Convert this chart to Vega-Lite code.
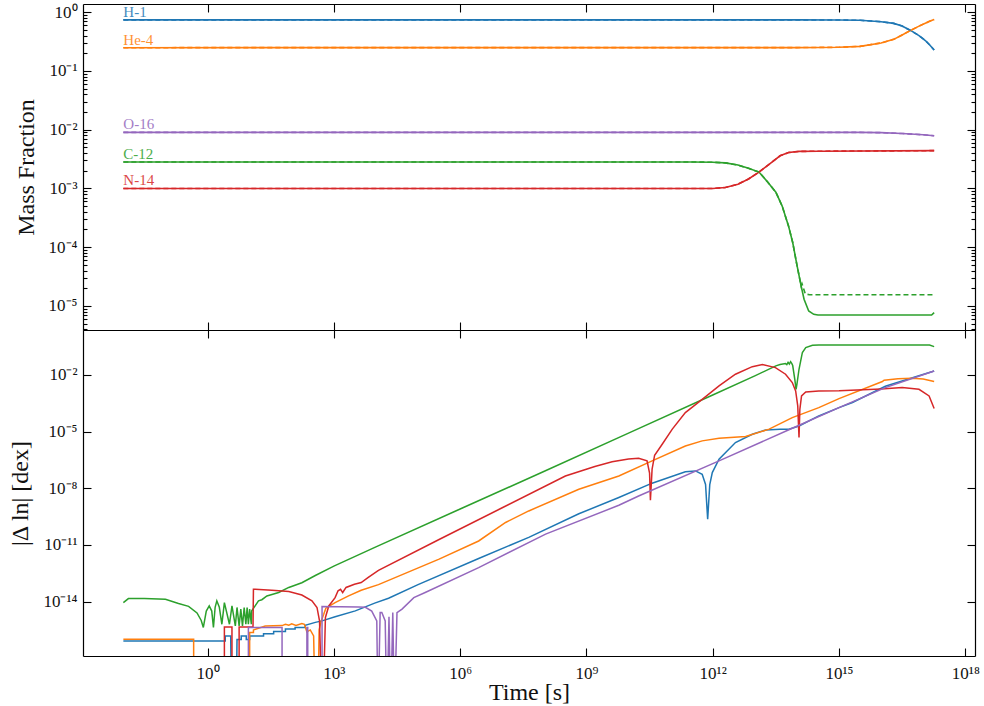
{
  "$schema": "https://vega.github.io/schema/vega-lite/v6.json",
  "background": "white",
  "padding": {"left": 8, "top": 3, "right": 0, "bottom": 0},
  "spacing": 0,
  "bounds": "flush",
  "config": {
    "view": {"stroke": null},
    "font": "Liberation Serif",
    "axis": {
      "grid": false,
      "domainColor": "black",
      "domainWidth": 1.2,
      "tickColor": "black",
      "tickWidth": 1.1,
      "labelColor": "#111111",
      "titleColor": "#111111",
      "labelFont": "Liberation Serif",
      "titleFont": "Liberation Serif",
      "labelFontSize": 17,
      "titleFontSize": 24,
      "titleFontWeight": "normal",
      "labelOverlap": false,
      "labelFlush": false,
      "labelBound": false
    }
  },
  "datasets": {
    "fracSolid": [
      {"species": "H-1", "t": 0.01, "X": 0.74}, {"species": "H-1", "t": 1e14, "X": 0.74}, {"species": "H-1", "t": 1e15, "X": 0.737}, {"species": "H-1", "t": 3.162e15, "X": 0.728}, {"species": "H-1", "t": 1e16, "X": 0.69}, {"species": "H-1", "t": 1.995e16, "X": 0.645}, {"species": "H-1", "t": 3.162e16, "X": 0.58}, {"species": "H-1", "t": 5.012e16, "X": 0.49}, {"species": "H-1", "t": 7.943e16, "X": 0.40}, {"species": "H-1", "t": 1.122e17, "X": 0.33}, {"species": "H-1", "t": 1.413e17, "X": 0.28}, {"species": "H-1", "t": 1.82e17, "X": 0.228},
      {"species": "He-4", "t": 0.01, "X": 0.249}, {"species": "He-4", "t": 1e14, "X": 0.25}, {"species": "He-4", "t": 1e15, "X": 0.253}, {"species": "He-4", "t": 3.162e15, "X": 0.262}, {"species": "He-4", "t": 1e16, "X": 0.30}, {"species": "He-4", "t": 1.995e16, "X": 0.345}, {"species": "He-4", "t": 3.162e16, "X": 0.41}, {"species": "He-4", "t": 5.012e16, "X": 0.49}, {"species": "He-4", "t": 7.943e16, "X": 0.58}, {"species": "He-4", "t": 1.122e17, "X": 0.65}, {"species": "He-4", "t": 1.413e17, "X": 0.70}, {"species": "He-4", "t": 1.82e17, "X": 0.75},
      {"species": "C-12", "t": 0.01, "X": 0.00282}, {"species": "C-12", "t": 3.162e11, "X": 0.00282}, {"species": "C-12", "t": 1e12, "X": 0.00279}, {"species": "C-12", "t": 1.995e12, "X": 0.00272}, {"species": "C-12", "t": 3.981e12, "X": 0.0025}, {"species": "C-12", "t": 7.079e12, "X": 0.0022}, {"species": "C-12", "t": 1.259e13, "X": 0.0019}, {"species": "C-12", "t": 1.995e13, "X": 0.0013}, {"species": "C-12", "t": 3.162e13, "X": 0.00086}, {"species": "C-12", "t": 4.467e13, "X": 0.0005}, {"species": "C-12", "t": 6.31e13, "X": 0.00023}, {"species": "C-12", "t": 7.943e13, "X": 0.00012}, {"species": "C-12", "t": 1e14, "X": 5.0e-5}, {"species": "C-12", "t": 1.259e14, "X": 2.2e-5}, {"species": "C-12", "t": 1.479e14, "X": 1.3e-5}, {"species": "C-12", "t": 1.905e14, "X": 8.2e-6}, {"species": "C-12", "t": 2.512e14, "X": 7.2e-6}, {"species": "C-12", "t": 3.162e14, "X": 7.0e-6}, {"species": "C-12", "t": 1.585e17, "X": 7.0e-6}, {"species": "C-12", "t": 1.82e17, "X": 7.7e-6},
      {"species": "N-14", "t": 0.01, "X": 0.001}, {"species": "N-14", "t": 1e12, "X": 0.001}, {"species": "N-14", "t": 1.995e12, "X": 0.00104}, {"species": "N-14", "t": 3.981e12, "X": 0.00118}, {"species": "N-14", "t": 7.079e12, "X": 0.00145}, {"species": "N-14", "t": 1.259e13, "X": 0.0019}, {"species": "N-14", "t": 2.512e13, "X": 0.00278}, {"species": "N-14", "t": 3.981e13, "X": 0.0036}, {"species": "N-14", "t": 6.31e13, "X": 0.00408}, {"species": "N-14", "t": 1.122e14, "X": 0.00427}, {"species": "N-14", "t": 3.162e14, "X": 0.0043}, {"species": "N-14", "t": 1.82e17, "X": 0.0044},
      {"species": "O-16", "t": 0.01, "X": 0.009}, {"species": "O-16", "t": 3.162e15, "X": 0.009}, {"species": "O-16", "t": 1e16, "X": 0.0089}, {"species": "O-16", "t": 3.162e16, "X": 0.0086}, {"species": "O-16", "t": 1e17, "X": 0.0082}, {"species": "O-16", "t": 1.82e17, "X": 0.0079}
    ],
    "fracDashed": [
      {"species": "H-1", "t": 0.01, "X": 0.74}, {"species": "H-1", "t": 1e14, "X": 0.74}, {"species": "H-1", "t": 1e15, "X": 0.737}, {"species": "H-1", "t": 3.162e15, "X": 0.728}, {"species": "H-1", "t": 1e16, "X": 0.69}, {"species": "H-1", "t": 1.995e16, "X": 0.645}, {"species": "H-1", "t": 3.162e16, "X": 0.58}, {"species": "H-1", "t": 5.012e16, "X": 0.49}, {"species": "H-1", "t": 7.943e16, "X": 0.40}, {"species": "H-1", "t": 1.122e17, "X": 0.33}, {"species": "H-1", "t": 1.413e17, "X": 0.28}, {"species": "H-1", "t": 1.82e17, "X": 0.228},
      {"species": "He-4", "t": 0.01, "X": 0.249}, {"species": "He-4", "t": 1e14, "X": 0.25}, {"species": "He-4", "t": 1e15, "X": 0.253}, {"species": "He-4", "t": 3.162e15, "X": 0.262}, {"species": "He-4", "t": 1e16, "X": 0.30}, {"species": "He-4", "t": 1.995e16, "X": 0.345}, {"species": "He-4", "t": 3.162e16, "X": 0.41}, {"species": "He-4", "t": 5.012e16, "X": 0.49}, {"species": "He-4", "t": 7.943e16, "X": 0.58}, {"species": "He-4", "t": 1.122e17, "X": 0.65}, {"species": "He-4", "t": 1.413e17, "X": 0.70}, {"species": "He-4", "t": 1.82e17, "X": 0.75},
      {"species": "C-12", "t": 0.01, "X": 0.00282}, {"species": "C-12", "t": 3.162e11, "X": 0.00282}, {"species": "C-12", "t": 1e12, "X": 0.00279}, {"species": "C-12", "t": 1.995e12, "X": 0.00272}, {"species": "C-12", "t": 3.981e12, "X": 0.0025}, {"species": "C-12", "t": 7.079e12, "X": 0.0022}, {"species": "C-12", "t": 1.259e13, "X": 0.0019}, {"species": "C-12", "t": 1.995e13, "X": 0.0013}, {"species": "C-12", "t": 3.162e13, "X": 0.00086}, {"species": "C-12", "t": 4.467e13, "X": 0.0005}, {"species": "C-12", "t": 6.31e13, "X": 0.00023}, {"species": "C-12", "t": 7.943e13, "X": 0.00012}, {"species": "C-12", "t": 1e14, "X": 5.0e-5}, {"species": "C-12", "t": 1.259e14, "X": 2.2e-5}, {"species": "C-12", "t": 1.318e14, "X": 2.4e-5}, {"species": "C-12", "t": 1.585e14, "X": 1.6e-5}, {"species": "C-12", "t": 1.995e14, "X": 1.55e-5}, {"species": "C-12", "t": 1.82e17, "X": 1.55e-5},
      {"species": "N-14", "t": 0.01, "X": 0.001}, {"species": "N-14", "t": 1e12, "X": 0.001}, {"species": "N-14", "t": 1.995e12, "X": 0.00104}, {"species": "N-14", "t": 3.981e12, "X": 0.00118}, {"species": "N-14", "t": 7.079e12, "X": 0.00145}, {"species": "N-14", "t": 1.259e13, "X": 0.0019}, {"species": "N-14", "t": 2.512e13, "X": 0.00278}, {"species": "N-14", "t": 3.981e13, "X": 0.0036}, {"species": "N-14", "t": 6.31e13, "X": 0.00408}, {"species": "N-14", "t": 1.122e14, "X": 0.00427}, {"species": "N-14", "t": 3.162e14, "X": 0.0043}, {"species": "N-14", "t": 1.82e17, "X": 0.0044},
      {"species": "O-16", "t": 0.01, "X": 0.009}, {"species": "O-16", "t": 3.162e15, "X": 0.009}, {"species": "O-16", "t": 1e16, "X": 0.0089}, {"species": "O-16", "t": 3.162e16, "X": 0.0086}, {"species": "O-16", "t": 1e17, "X": 0.0082}, {"species": "O-16", "t": 1.82e17, "X": 0.0079}
    ],
    "dex": [
      {"species": "H-1", "t": 0.01, "d": 8.32e-17}, {"species": "H-1", "t": 2.63, "d": 8.32e-17}, {"species": "H-1", "t": 2.63, "d": 1.51e-16}, {"species": "H-1", "t": 3.548, "d": 1.51e-16}, {"species": "H-1", "t": 3.715, "d": 1e-20}, {"species": "H-1", "t": 4.786, "d": 1e-20}, {"species": "H-1", "t": 5.012, "d": 1e-16}, {"species": "H-1", "t": 6.31, "d": 1e-16}, {"species": "H-1", "t": 6.31, "d": 1.51e-16}, {"species": "H-1", "t": 8.318, "d": 1.51e-16}, {"species": "H-1", "t": 8.318, "d": 1e-16}, {"species": "H-1", "t": 10, "d": 1e-16}, {"species": "H-1", "t": 10, "d": 1.51e-16}, {"species": "H-1", "t": 21.38, "d": 1.51e-16}, {"species": "H-1", "t": 21.38, "d": 2.0e-16}, {"species": "H-1", "t": 37.15, "d": 2.0e-16}, {"species": "H-1", "t": 37.15, "d": 2.63e-16}, {"species": "H-1", "t": 70.79, "d": 2.63e-16}, {"species": "H-1", "t": 70.79, "d": 3.55e-16}, {"species": "H-1", "t": 120.2, "d": 3.55e-16}, {"species": "H-1", "t": 120.2, "d": 4.27e-16}, {"species": "H-1", "t": 208.9, "d": 4.27e-16}, {"species": "H-1", "t": 208.9, "d": 5.62e-16}, {"species": "H-1", "t": 363.1, "d": 7.94e-16}, {"species": "H-1", "t": 524.8, "d": 9.55e-16}, {"species": "H-1", "t": 1072, "d": 1.585e-15}, {"species": "H-1", "t": 3236, "d": 3.24e-15}, {"species": "H-1", "t": 9333, "d": 8.32e-15}, {"species": "H-1", "t": 1.995e4, "d": 1.51e-14}, {"species": "H-1", "t": 1e5, "d": 7.94e-14}, {"species": "H-1", "t": 2.754e6, "d": 1.905e-12}, {"species": "H-1", "t": 4.266e7, "d": 2.51e-11}, {"species": "H-1", "t": 6.607e8, "d": 4.47e-10}, {"species": "H-1", "t": 5.888e9, "d": 3.24e-9}, {"species": "H-1", "t": 3.631e10, "d": 1.862e-8}, {"species": "H-1", "t": 2.239e11, "d": 7.41e-8}, {"species": "H-1", "t": 3.89e11, "d": 8.32e-8}, {"species": "H-1", "t": 5.623e11, "d": 5.5e-8}, {"species": "H-1", "t": 6.761e11, "d": 1.585e-8}, {"species": "H-1", "t": 7.586e11, "d": 2.29e-10}, {"species": "H-1", "t": 8.511e11, "d": 1.585e-8}, {"species": "H-1", "t": 9.772e11, "d": 6.76e-8}, {"species": "H-1", "t": 1.413e12, "d": 3.47e-7}, {"species": "H-1", "t": 3.467e12, "d": 2.63e-6}, {"species": "H-1", "t": 8.71e12, "d": 7.24e-6}, {"species": "H-1", "t": 1.82e13, "d": 1.23e-5}, {"species": "H-1", "t": 3.981e13, "d": 1.35e-5}, {"species": "H-1", "t": 6.457e13, "d": 1.35e-5}, {"species": "H-1", "t": 1.122e14, "d": 2.0e-5}, {"species": "H-1", "t": 3.311e14, "d": 6.76e-5}, {"species": "H-1", "t": 1e15, "d": 1.86e-4}, {"species": "H-1", "t": 2.089e15, "d": 3.47e-4}, {"species": "H-1", "t": 1.259e16, "d": 2.51e-3}, {"species": "H-1", "t": 1.82e17, "d": 1.62e-2},
      {"species": "He-4", "t": 0.01, "d": 1.023e-16}, {"species": "He-4", "t": 0.4677, "d": 1.023e-16}, {"species": "He-4", "t": 0.4677, "d": 1e-20}, {"species": "He-4", "t": 10, "d": 1e-20}, {"species": "He-4", "t": 10, "d": 2.29e-16}, {"species": "He-4", "t": 12.3, "d": 2.29e-16}, {"species": "He-4", "t": 12.3, "d": 3.16e-16}, {"species": "He-4", "t": 16.22, "d": 3.89e-16}, {"species": "He-4", "t": 23.44, "d": 5.13e-16}, {"species": "He-4", "t": 58.88, "d": 5.37e-16}, {"species": "He-4", "t": 70.79, "d": 6.31e-16}, {"species": "He-4", "t": 85.11, "d": 5.62e-16}, {"species": "He-4", "t": 100, "d": 6.61e-16}, {"species": "He-4", "t": 125.9, "d": 5.5e-16}, {"species": "He-4", "t": 173.8, "d": 6.92e-16}, {"species": "He-4", "t": 199.5, "d": 6.31e-16}, {"species": "He-4", "t": 229.1, "d": 2.51e-16}, {"species": "He-4", "t": 275.4, "d": 3.16e-16}, {"species": "He-4", "t": 331.1, "d": 1.51e-16}, {"species": "He-4", "t": 363.1, "d": 1e-20}, {"species": "He-4", "t": 416.9, "d": 1e-20}, {"species": "He-4", "t": 446.7, "d": 3.16e-16}, {"species": "He-4", "t": 501.2, "d": 9.55e-16}, {"species": "He-4", "t": 575.4, "d": 2.14e-15}, {"species": "He-4", "t": 645.7, "d": 4.47e-15}, {"species": "He-4", "t": 1072, "d": 8.91e-15}, {"species": "He-4", "t": 2239, "d": 2.0e-14}, {"species": "He-4", "t": 4467, "d": 3.98e-14}, {"species": "He-4", "t": 1.148e4, "d": 7.94e-14}, {"species": "He-4", "t": 3.162e5, "d": 1.778e-12}, {"species": "He-4", "t": 2.754e6, "d": 1.622e-11}, {"species": "He-4", "t": 1.202e7, "d": 1.549e-10}, {"species": "He-4", "t": 4.266e7, "d": 6.31e-10}, {"species": "He-4", "t": 6.607e8, "d": 8.91e-9}, {"species": "He-4", "t": 5.888e9, "d": 4.47e-8}, {"species": "He-4", "t": 3.631e10, "d": 2.82e-7}, {"species": "He-4", "t": 2.239e11, "d": 1.738e-6}, {"species": "He-4", "t": 5.623e11, "d": 3.24e-6}, {"species": "He-4", "t": 1.413e12, "d": 4.47e-6}, {"species": "He-4", "t": 6.026e12, "d": 5.5e-6}, {"species": "He-4", "t": 2.188e13, "d": 1.35e-5}, {"species": "He-4", "t": 7.762e13, "d": 5.5e-5}, {"species": "He-4", "t": 3.311e14, "d": 1.86e-4}, {"species": "He-4", "t": 1e15, "d": 5.62e-4}, {"species": "He-4", "t": 1.072e16, "d": 4.47e-3}, {"species": "He-4", "t": 1.175e16, "d": 5.25e-3}, {"species": "He-4", "t": 2.512e16, "d": 6.31e-3}, {"species": "He-4", "t": 5.495e16, "d": 6.76e-3}, {"species": "He-4", "t": 1e17, "d": 6.03e-3}, {"species": "He-4", "t": 1.82e17, "d": 4.47e-3},
      {"species": "C-12", "t": 0.01, "d": 8.91e-15}, {"species": "C-12", "t": 0.01318, "d": 1.445e-14}, {"species": "C-12", "t": 0.03162, "d": 1.479e-14}, {"species": "C-12", "t": 0.1, "d": 1.318e-14}, {"species": "C-12", "t": 0.2042, "d": 7.94e-15}, {"species": "C-12", "t": 0.3548, "d": 5.62e-15}, {"species": "C-12", "t": 0.5623, "d": 2.51e-15}, {"species": "C-12", "t": 0.7079, "d": 1.0e-15}, {"species": "C-12", "t": 0.7943, "d": 4.27e-16}, {"species": "C-12", "t": 0.9333, "d": 3.16e-15}, {"species": "C-12", "t": 1.096, "d": 5.89e-15}, {"species": "C-12", "t": 1.259, "d": 3.16e-15}, {"species": "C-12", "t": 1.38, "d": 4.27e-16}, {"species": "C-12", "t": 1.514, "d": 5.01e-15}, {"species": "C-12", "t": 1.66, "d": 1.096e-14}, {"species": "C-12", "t": 1.905, "d": 5.01e-15}, {"species": "C-12", "t": 2.188, "d": 6.31e-16}, {"species": "C-12", "t": 2.512, "d": 8.91e-15}, {"species": "C-12", "t": 3.311, "d": 6.31e-16}, {"species": "C-12", "t": 3.802, "d": 5.89e-15}, {"species": "C-12", "t": 4.571, "d": 5.13e-16}, {"species": "C-12", "t": 5.012, "d": 4.9e-15}, {"species": "C-12", "t": 5.623, "d": 5.13e-16}, {"species": "C-12", "t": 6.166, "d": 3.98e-15}, {"species": "C-12", "t": 6.761, "d": 5.13e-16}, {"species": "C-12", "t": 7.413, "d": 4.9e-15}, {"species": "C-12", "t": 8.128, "d": 6.31e-16}, {"species": "C-12", "t": 8.71, "d": 4.9e-15}, {"species": "C-12", "t": 9.333, "d": 6.31e-16}, {"species": "C-12", "t": 10, "d": 3.98e-15}, {"species": "C-12", "t": 10.96, "d": 6.31e-16}, {"species": "C-12", "t": 11.22, "d": 3.24e-15}, {"species": "C-12", "t": 13.49, "d": 5.89e-15}, {"species": "C-12", "t": 16.22, "d": 1.096e-14}, {"species": "C-12", "t": 19.5, "d": 1.259e-14}, {"species": "C-12", "t": 25.7, "d": 2.0e-14}, {"species": "C-12", "t": 33.88, "d": 2.4e-14}, {"species": "C-12", "t": 48.98, "d": 3.02e-14}, {"species": "C-12", "t": 85.11, "d": 5.62e-14}, {"species": "C-12", "t": 173.8, "d": 1.0e-13}, {"species": "C-12", "t": 363.1, "d": 2.4e-13}, {"species": "C-12", "t": 1000, "d": 7.59e-13}, {"species": "C-12", "t": 1e4, "d": 7.94e-12}, {"species": "C-12", "t": 1e6, "d": 7.94e-10}, {"species": "C-12", "t": 1e8, "d": 7.94e-8}, {"species": "C-12", "t": 1e10, "d": 8.32e-6}, {"species": "C-12", "t": 1e12, "d": 8.71e-4}, {"species": "C-12", "t": 1e13, "d": 8.91e-3}, {"species": "C-12", "t": 3.162e13, "d": 3.02e-2}, {"species": "C-12", "t": 3.981e13, "d": 3.55e-2}, {"species": "C-12", "t": 5.37e13, "d": 3.98e-2}, {"species": "C-12", "t": 5.754e13, "d": 3.55e-2}, {"species": "C-12", "t": 6.166e13, "d": 4.68e-2}, {"species": "C-12", "t": 6.607e13, "d": 3.8e-2}, {"species": "C-12", "t": 7.079e13, "d": 5.01e-2}, {"species": "C-12", "t": 7.586e13, "d": 3.98e-2}, {"species": "C-12", "t": 7.943e13, "d": 3.16e-2}, {"species": "C-12", "t": 8.913e13, "d": 5.89e-3}, {"species": "C-12", "t": 9.55e13, "d": 1.738e-3}, {"species": "C-12", "t": 1e14, "d": 3.16e-3}, {"species": "C-12", "t": 1.122e14, "d": 2.0e-2}, {"species": "C-12", "t": 1.23e14, "d": 5.5e-2}, {"species": "C-12", "t": 1.349e14, "d": 0.155}, {"species": "C-12", "t": 1.622e14, "d": 0.282}, {"species": "C-12", "t": 2.344e14, "d": 0.372}, {"species": "C-12", "t": 3.311e14, "d": 0.389}, {"species": "C-12", "t": 1.413e17, "d": 0.389}, {"species": "C-12", "t": 1.82e17, "d": 0.316},
      {"species": "N-14", "t": 0.01, "d": 1e-20}, {"species": "N-14", "t": 2.512, "d": 1e-20}, {"species": "N-14", "t": 2.512, "d": 4.57e-16}, {"species": "N-14", "t": 3.802, "d": 4.57e-16}, {"species": "N-14", "t": 3.802, "d": 1e-20}, {"species": "N-14", "t": 5.623, "d": 1e-20}, {"species": "N-14", "t": 5.623, "d": 4.57e-16}, {"species": "N-14", "t": 12.02, "d": 4.57e-16}, {"species": "N-14", "t": 12.3, "d": 4.47e-14}, {"species": "N-14", "t": 13.49, "d": 4.47e-14}, {"species": "N-14", "t": 33.88, "d": 3.98e-14}, {"species": "N-14", "t": 85.11, "d": 3.39e-14}, {"species": "N-14", "t": 173.8, "d": 2.24e-14}, {"species": "N-14", "t": 302.0, "d": 1.096e-14}, {"species": "N-14", "t": 398.1, "d": 4.9e-15}, {"species": "N-14", "t": 457.1, "d": 9.55e-16}, {"species": "N-14", "t": 524.8, "d": 1e-20}, {"species": "N-14", "t": 549.5, "d": 1e-20}, {"species": "N-14", "t": 631.0, "d": 1.445e-15}, {"species": "N-14", "t": 758.6, "d": 5.89e-15}, {"species": "N-14", "t": 1072, "d": 1.622e-14}, {"species": "N-14", "t": 1259, "d": 3.72e-14}, {"species": "N-14", "t": 1445, "d": 4.47e-14}, {"species": "N-14", "t": 1622, "d": 3.02e-14}, {"species": "N-14", "t": 1950, "d": 5.62e-14}, {"species": "N-14", "t": 3090, "d": 8.32e-14}, {"species": "N-14", "t": 4467, "d": 1.023e-13}, {"species": "N-14", "t": 6457, "d": 1.862e-13}, {"species": "N-14", "t": 1.148e4, "d": 4.47e-13}, {"species": "N-14", "t": 3.162e5, "d": 1.95e-11}, {"species": "N-14", "t": 1e7, "d": 9.33e-10}, {"species": "N-14", "t": 3.162e8, "d": 4.47e-8}, {"species": "N-14", "t": 1.585e9, "d": 1.413e-7}, {"species": "N-14", "t": 4.074e9, "d": 2.51e-7}, {"species": "N-14", "t": 1e10, "d": 3.55e-7}, {"species": "N-14", "t": 1.738e10, "d": 3.89e-7}, {"species": "N-14", "t": 2.754e10, "d": 2.82e-7}, {"species": "N-14", "t": 3.162e10, "d": 6.31e-8}, {"species": "N-14", "t": 3.311e10, "d": 2.34e-9}, {"species": "N-14", "t": 3.631e10, "d": 1.023e-7}, {"species": "N-14", "t": 4.169e10, "d": 5.62e-7}, {"species": "N-14", "t": 6.31e10, "d": 2.14e-6}, {"species": "N-14", "t": 1.096e11, "d": 1.35e-5}, {"species": "N-14", "t": 2.239e11, "d": 1.023e-4}, {"species": "N-14", "t": 5.623e11, "d": 5.13e-4}, {"species": "N-14", "t": 1.413e12, "d": 2.63e-3}, {"species": "N-14", "t": 3.467e12, "d": 1.096e-2}, {"species": "N-14", "t": 8.71e12, "d": 2.75e-2}, {"species": "N-14", "t": 1.514e13, "d": 3.55e-2}, {"species": "N-14", "t": 3.09e13, "d": 2.45e-2}, {"species": "N-14", "t": 5.37e13, "d": 1.096e-2}, {"species": "N-14", "t": 7.762e13, "d": 3.98e-3}, {"species": "N-14", "t": 9.333e13, "d": 1.413e-3}, {"species": "N-14", "t": 1.047e14, "d": 2.29e-4}, {"species": "N-14", "t": 1.122e14, "d": 4.9e-6}, {"species": "N-14", "t": 1.175e14, "d": 1.51e-4}, {"species": "N-14", "t": 1.288e14, "d": 7.76e-4}, {"species": "N-14", "t": 1.622e14, "d": 1.259e-3}, {"species": "N-14", "t": 3.311e14, "d": 1.413e-3}, {"species": "N-14", "t": 1e15, "d": 1.445e-3}, {"species": "N-14", "t": 1e16, "d": 1.82e-3}, {"species": "N-14", "t": 3.162e16, "d": 2.14e-3}, {"species": "N-14", "t": 7.943e16, "d": 1.738e-3}, {"species": "N-14", "t": 1.38e17, "d": 7.76e-4}, {"species": "N-14", "t": 1.82e17, "d": 1.66e-4},
      {"species": "O-16", "t": 0.01, "d": 1e-20}, {"species": "O-16", "t": 9.333, "d": 1e-20}, {"species": "O-16", "t": 9.333, "d": 4.27e-16}, {"species": "O-16", "t": 58.88, "d": 4.27e-16}, {"species": "O-16", "t": 58.88, "d": 1e-20}, {"species": "O-16", "t": 229.1, "d": 1e-20}, {"species": "O-16", "t": 229.1, "d": 4.27e-16}, {"species": "O-16", "t": 239.9, "d": 4.27e-16}, {"species": "O-16", "t": 239.9, "d": 1e-20}, {"species": "O-16", "t": 524.8, "d": 1e-20}, {"species": "O-16", "t": 524.8, "d": 5.5e-15}, {"species": "O-16", "t": 3890, "d": 5.25e-15}, {"species": "O-16", "t": 5623, "d": 5.01e-15}, {"species": "O-16", "t": 7943, "d": 3.16e-15}, {"species": "O-16", "t": 1.047e4, "d": 9.55e-16}, {"species": "O-16", "t": 1.122e4, "d": 1e-20}, {"species": "O-16", "t": 1.259e4, "d": 2.63e-15}, {"species": "O-16", "t": 1.38e4, "d": 2.63e-15}, {"species": "O-16", "t": 1.66e4, "d": 9.55e-16}, {"species": "O-16", "t": 1.82e4, "d": 1e-20}, {"species": "O-16", "t": 2.042e4, "d": 1.585e-15}, {"species": "O-16", "t": 2.239e4, "d": 1e-20}, {"species": "O-16", "t": 2.512e4, "d": 2.63e-15}, {"species": "O-16", "t": 2.754e4, "d": 1e-20}, {"species": "O-16", "t": 3.162e4, "d": 2.63e-15}, {"species": "O-16", "t": 4.169e4, "d": 3.98e-15}, {"species": "O-16", "t": 7.943e4, "d": 1.622e-14}, {"species": "O-16", "t": 1.479e5, "d": 3.02e-14}, {"species": "O-16", "t": 2.754e6, "d": 6.31e-13}, {"species": "O-16", "t": 1.072e8, "d": 3.72e-11}, {"species": "O-16", "t": 5.888e9, "d": 1.259e-9}, {"species": "O-16", "t": 1.738e10, "d": 3.89e-9}, {"species": "O-16", "t": 1.413e12, "d": 2.82e-7}, {"species": "O-16", "t": 6.457e13, "d": 1.259e-5}, {"species": "O-16", "t": 1e15, "d": 1.86e-4}, {"species": "O-16", "t": 1.259e16, "d": 2.14e-3}, {"species": "O-16", "t": 1.82e17, "d": 1.62e-2}
    ]
  },
  "vconcat": [
    {
      "width": 892,
      "height": 326,
      "layer": [
        {
          "data": {"name": "fracSolid"},
          "mark": {"type": "line", "strokeWidth": 1.6, "clip": true},
          "encoding": {
            "x": {"field": "t", "type": "quantitative",
              "scale": {"type": "log", "domain": [1.1e-3, 1.7e18], "nice": false},
              "axis": {"orient": "bottom", "values": [1, 1e3, 1e6, 1e9, 1e12, 1e15, 1e18], "labels": false, "tickSize": -8, "title": null}},
            "y": {"field": "X", "type": "quantitative",
              "scale": {"type": "log", "domain": [3.89e-6, 1.38], "nice": false},
              "axis": {
                "orient": "left",
                "title": "Mass Fraction",
                "titlePadding": 10,
                "values": [4e-6, 5e-6, 6e-6, 7e-6, 8e-6, 9e-6, 1e-5, 2e-5, 3e-5, 4e-5, 5e-5, 6e-5, 7e-5, 8e-5, 9e-5, 1e-4, 2e-4, 3e-4, 4e-4, 5e-4, 6e-4, 7e-4, 8e-4, 9e-4, 1e-3, 2e-3, 3e-3, 4e-3, 5e-3, 6e-3, 7e-3, 8e-3, 9e-3, 1e-2, 2e-2, 3e-2, 4e-2, 5e-2, 6e-2, 7e-2, 8e-2, 9e-2, 0.1, 0.2, 0.3, 0.4, 0.5, 0.6, 0.7, 0.8, 0.9, 1],
                "tickSize": {"condition": {"test": "abs(log(datum.value)/LN10 - round(log(datum.value)/LN10)) < 0.001", "value": -8}, "value": -4},
                "labelPadding": 14,
                "labelExpr": "abs(log(datum.value)/LN10 - round(log(datum.value)/LN10)) < 0.001 ? ('10' + (datum.value < 0.5 ? '⁻' : '') + substring('⁰¹²³⁴⁵⁶⁷⁸⁹', abs(round(log(datum.value)/LN10)) % 10, abs(round(log(datum.value)/LN10)) % 10 + 1)) : ''"
              }},
            "color": {"field": "species", "type": "nominal",
              "scale": {"domain": ["H-1", "He-4", "C-12", "N-14", "O-16"], "range": ["#1f77b4", "#ff7f0e", "#2ca02c", "#d62728", "#9467bd"]},
              "legend": null}
          }
        },
        {
          "data": {"name": "fracDashed"},
          "mark": {"type": "line", "strokeWidth": 1.6, "strokeDash": [5, 3], "clip": true},
          "encoding": {
            "x": {"field": "t", "type": "quantitative",
              "scale": {"type": "log", "domain": [1.1e-3, 1.7e18], "nice": false},
              "axis": {"orient": "top", "values": [1, 1e3, 1e6, 1e9, 1e12, 1e15, 1e18], "labels": false, "tickSize": -8, "title": null}},
            "y": {"field": "X", "type": "quantitative",
              "scale": {"type": "log", "domain": [3.89e-6, 1.38], "nice": false},
              "axis": {
                "orient": "right",
                "title": null,
                "labels": false,
                "values": [4e-6, 5e-6, 6e-6, 7e-6, 8e-6, 9e-6, 1e-5, 2e-5, 3e-5, 4e-5, 5e-5, 6e-5, 7e-5, 8e-5, 9e-5, 1e-4, 2e-4, 3e-4, 4e-4, 5e-4, 6e-4, 7e-4, 8e-4, 9e-4, 1e-3, 2e-3, 3e-3, 4e-3, 5e-3, 6e-3, 7e-3, 8e-3, 9e-3, 1e-2, 2e-2, 3e-2, 4e-2, 5e-2, 6e-2, 7e-2, 8e-2, 9e-2, 0.1, 0.2, 0.3, 0.4, 0.5, 0.6, 0.7, 0.8, 0.9, 1],
                "tickSize": {"condition": {"test": "abs(log(datum.value)/LN10 - round(log(datum.value)/LN10)) < 0.001", "value": -8}, "value": -4}
              }},
            "color": {"field": "species", "type": "nominal", "legend": null}
          }
        },
        {
          "data": {"name": "fracSolid"},
          "transform": [{"filter": "datum.t == 0.01"}],
          "mark": {"type": "text", "align": "left", "baseline": "alphabetic", "dy": -3, "fontSize": 15, "font": "Liberation Serif", "opacity": 0.85},
          "encoding": {
            "x": {"field": "t", "type": "quantitative", "axis": null},
            "y": {"field": "X", "type": "quantitative", "axis": null},
            "text": {"field": "species"},
            "color": {"field": "species", "type": "nominal", "legend": null}
          }
        }
      ],
      "resolve": {"axis": {"x": "independent", "y": "independent"}}
    },
    {
      "width": 892,
      "height": 326,
      "layer": [
        {
          "data": {"name": "dex"},
          "transform": [{"filter": "datum.species == 'H-1' || datum.species == 'He-4' || datum.species == 'C-12'"}],
          "mark": {"type": "line", "strokeWidth": 1.5, "clip": true},
          "encoding": {
            "x": {"field": "t", "type": "quantitative", "sort": null,
              "scale": {"type": "log", "domain": [1.1e-3, 1.7e18], "nice": false},
              "axis": {
                "orient": "bottom",
                "title": "Time [s]",
                "titlePadding": -1,
                "values": [1, 1e3, 1e6, 1e9, 1e12, 1e15, 1e18],
                "tickSize": -8,
                "labelPadding": 17,
                "labelExpr": "'10' + (datum.value < 0.5 ? '⁻' : '') + (abs(round(log(datum.value)/LN10)) >= 10 ? substring('⁰¹²³⁴⁵⁶⁷⁸⁹', floor(abs(round(log(datum.value)/LN10))/10), floor(abs(round(log(datum.value)/LN10))/10) + 1) : '') + substring('⁰¹²³⁴⁵⁶⁷⁸⁹', abs(round(log(datum.value)/LN10)) % 10, abs(round(log(datum.value)/LN10)) % 10 + 1)"
              }},
            "y": {"field": "d", "type": "quantitative",
              "scale": {"type": "log", "domain": [1.318e-17, 2.4], "nice": false},
              "axis": {
                "orient": "left",
                "title": "|Δ ln| [dex]",
                "titlePadding": 10,
                "values": [1e-14, 1e-11, 1e-8, 1e-5, 1e-2],
                "tickSize": -8,
                "labelPadding": 14,
                "labelExpr": "'10' + (datum.value < 0.5 ? '⁻' : '') + (abs(round(log(datum.value)/LN10)) >= 10 ? substring('⁰¹²³⁴⁵⁶⁷⁸⁹', floor(abs(round(log(datum.value)/LN10))/10), floor(abs(round(log(datum.value)/LN10))/10) + 1) : '') + substring('⁰¹²³⁴⁵⁶⁷⁸⁹', abs(round(log(datum.value)/LN10)) % 10, abs(round(log(datum.value)/LN10)) % 10 + 1)"
              }},
            "color": {"field": "species", "type": "nominal",
              "scale": {"domain": ["H-1", "He-4", "C-12", "N-14", "O-16"], "range": ["#1f77b4", "#ff7f0e", "#2ca02c", "#d62728", "#9467bd"]},
              "legend": null}
          }
        },
        {
          "data": {"name": "dex"},
          "transform": [{"filter": "datum.species == 'N-14' || datum.species == 'O-16'"}],
          "mark": {"type": "line", "strokeWidth": 1.5, "clip": true},
          "encoding": {
            "x": {"field": "t", "type": "quantitative", "sort": null,
              "scale": {"type": "log", "domain": [1.1e-3, 1.7e18], "nice": false},
              "axis": {"orient": "top", "values": [1, 1e3, 1e6, 1e9, 1e12, 1e15, 1e18], "labels": false, "tickSize": -8, "title": null}},
            "y": {"field": "d", "type": "quantitative",
              "scale": {"type": "log", "domain": [1.318e-17, 2.4], "nice": false},
              "axis": {"orient": "right", "values": [1e-14, 1e-11, 1e-8, 1e-5, 1e-2], "labels": false, "tickSize": -8, "title": null}},
            "color": {"field": "species", "type": "nominal", "legend": null}
          }
        }
      ],
      "resolve": {"axis": {"x": "independent", "y": "independent"}}
    }
  ]
}
